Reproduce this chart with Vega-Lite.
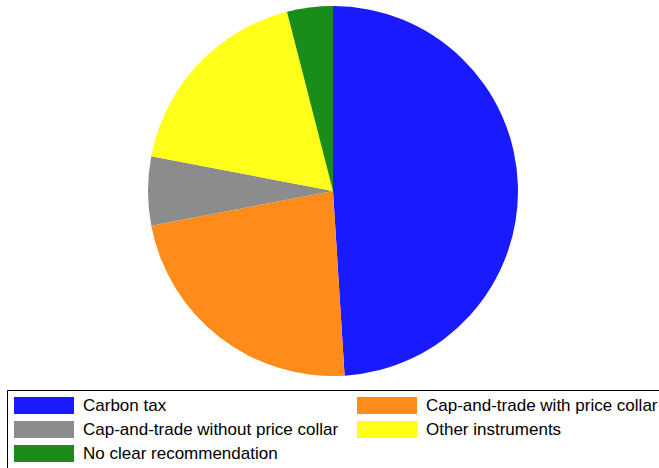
{
  "$schema": "https://vega.github.io/schema/vega-lite/v6.json",
  "width": 666,
  "height": 382,
  "padding": 0,
  "autosize": {"type": "pad"},
  "background": "white",
  "view": {"stroke": null},
  "data": {"values": [
    {"category": "Carbon tax", "share": 49, "rank": 1},
    {"category": "Cap-and-trade with price collar", "share": 23, "rank": 2},
    {"category": "Cap-and-trade without price collar", "share": 6, "rank": 3},
    {"category": "Other instruments", "share": 18, "rank": 4},
    {"category": "No clear recommendation", "share": 4, "rank": 5}
  ]},
  "mark": {"type": "arc", "outerRadius": 185},
  "encoding": {
    "theta": {"field": "share", "type": "quantitative", "stack": true},
    "order": {"field": "rank", "type": "quantitative"},
    "color": {
      "field": "category",
      "type": "nominal",
      "sort": null,
      "scale": {
        "domain": ["Carbon tax", "Cap-and-trade with price collar", "Cap-and-trade without price collar", "Other instruments", "No clear recommendation"],
        "range": ["#1a1aff", "#ff8c1a", "#8c8c8c", "#ffff1a", "#1a8c1a"]
      },
      "legend": {
        "title": null,
        "orient": "none",
        "direction": "horizontal",
        "legendX": 7,
        "legendY": 390,
        "columns": 2,
        "columnPadding": 18,
        "rowPadding": 6,
        "padding": 7,
        "strokeColor": "black",
        "symbolType": "M-1,-1h7.06v2h-7.06z",
        "symbolSize": 289,
        "symbolStrokeWidth": 0,
        "symbolOpacity": 1,
        "labelFont": "Liberation Sans",
        "labelFontSize": 17,
        "labelColor": "black",
        "labelOffset": 52,
        "labelLimit": 400
      }
    }
  }
}
